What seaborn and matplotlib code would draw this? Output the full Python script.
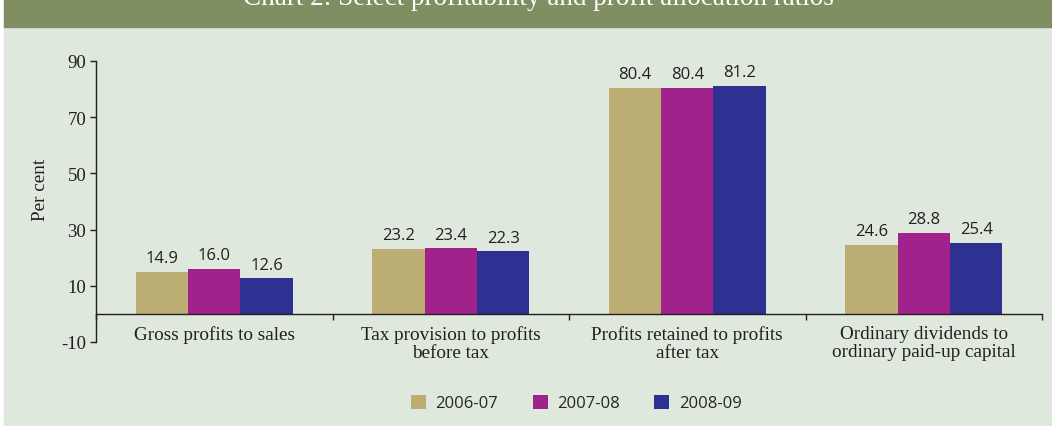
import matplotlib
matplotlib.use("Agg")
import matplotlib.pyplot as plt
from matplotlib.patches import Rectangle, Patch
import seaborn as sns
import pandas as pd

# ---- data ----
categories = [
    "Gross profits to sales",
    "Tax provision to profits\nbefore tax",
    "Profits retained to profits\nafter tax",
    "Ordinary dividends to\nordinary paid-up capital",
]
years = ["2006-07", "2007-08", "2008-09"]
values_2006_07 = [14.9, 23.2, 80.4, 24.6]
values_2007_08 = [16.0, 23.4, 80.4, 28.8]
values_2008_09 = [12.6, 22.3, 81.2, 25.4]
y_ticks = [-10, 10, 30, 50, 70, 90]
title = "Chart 2: Select profitability and profit allocation ratios"
y_label = "Per cent"

colors = ["#bcad72", "#a0228a", "#2e3192"]
bg = "#dfe8dc"
band = "#7f8f62"
serif = ["Liberation Serif", "DejaVu Serif"]
sans = ["Open Sans", "DejaVu Sans"]
txt = "#231f20"

rows = []
for yr, vals in zip(years, [values_2006_07, values_2007_08, values_2008_09]):
    for c, v in zip(categories, vals):
        rows.append({"category": c, "year": yr, "value": v})
df = pd.DataFrame(rows)

sns.set_theme(style="white")
W, H = 1052, 427
fig = plt.figure(figsize=(W / 100, H / 100), dpi=100, facecolor="white")

# background + header band
fig.patches.append(Rectangle((4 / W, 0), 1 - 4 / W, 1, transform=fig.transFigure,
                             color=bg, zorder=-10))
fig.patches.append(Rectangle((4 / W, 1 - 28 / H), 1 - 4 / W, 28 / H,
                             transform=fig.transFigure, color=band, zorder=-9))
fig.text(538 / W, 1 - 5 / H, title, ha="center", va="baseline", color="white",
         fontsize=19.5, family=serif)

ax = fig.add_axes([96 / W, 84 / H, (1042 - 96) / W, (343 - 62) / H])
ax.set_facecolor("none")

sns.barplot(data=df, x="category", y="value", hue="year", order=categories,
            hue_order=years, palette=colors, width=0.665, linewidth=0,
            saturation=1, ax=ax, legend=False)

ax.set_xlim(-0.5, 3.5)
ax.set_ylim(-10, 90)
ax.set_yticks(y_ticks)
ax.set_yticklabels([str(t) for t in y_ticks], family=serif, fontsize=13.5, color=txt)
ax.tick_params(axis="y", direction="out", length=4, width=1, color=txt, pad=3, left=True)

for s in ["top", "right"]:
    ax.spines[s].set_visible(False)
ax.spines["left"].set_color(txt)
ax.spines["left"].set_linewidth(1)
ax.spines["bottom"].set_position(("data", 0))
ax.spines["bottom"].set_color(txt)
ax.spines["bottom"].set_linewidth(1)

ax.set_xticks(range(len(categories)))
ax.set_xticklabels(categories, family=serif, fontsize=13.8, color=txt,
                   linespacing=1.1)
ax.set_xticks([-0.5, 0.5, 1.5, 2.5, 3.5], minor=True)
ax.tick_params(axis="x", which="major", length=0, pad=8, bottom=True)
ax.tick_params(axis="x", which="minor", direction="out", length=4.5, width=1,
               color=txt, bottom=True)
ax.set_xlabel("")
ax.set_ylabel(y_label, family=serif, fontsize=13.8, color=txt)
ax.yaxis.set_label_coords(-0.050, 0.545)

for cont in ax.containers:
    ax.bar_label(cont, fmt="%.1f", padding=4, fontsize=12, family=sans, color=txt)

handles = [Patch(facecolor=c, edgecolor="none") for c in colors]
fig.legend(handles, years, loc="center", bbox_to_anchor=(576 / W, 23 / H), ncol=3,
           frameon=False, prop={"family": sans, "size": 12}, handlelength=0.9,
           handleheight=0.9, handletextpad=0.55, columnspacing=2.1)

fig.savefig("out.png", dpi=100, facecolor=fig.get_facecolor())
